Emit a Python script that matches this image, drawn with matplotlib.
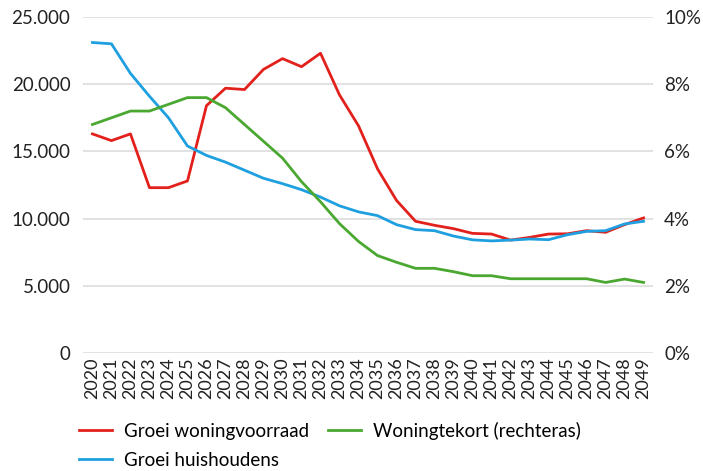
import numpy as np
import matplotlib
matplotlib.use("Agg")
import matplotlib.pyplot as plt
from matplotlib.ticker import FuncFormatter

plt.rcParams['font.family'] = ['Lato', 'DejaVu Sans']

# Data
years = list(range(2020, 2050))
groei_woningvoorraad = [16300, 15800, 16300, 12300, 12300, 12800, 18400, 19700, 19600, 21100,
                        21900, 21300, 22300, 19200, 16900, 13700, 11350, 9800, 9500, 9250,
                        8900, 8850, 8400, 8600, 8850, 8870, 9100, 8980, 9550, 10050]
groei_huishoudens = [23100, 23000, 20800, 19100, 17500, 15400, 14700, 14200, 13600, 13000,
                     12600, 12150, 11600, 10950, 10500, 10220, 9550, 9180, 9100, 8700,
                     8420, 8340, 8400, 8480, 8430, 8800, 9050, 9100, 9600, 9800]
woningtekort = [6.8, 7.0, 7.2, 7.2, 7.4, 7.6, 7.6, 7.3, 6.8, 6.3,
                5.8, 5.1, 4.5, 3.85, 3.32, 2.9, 2.7, 2.52, 2.52, 2.42,
                2.3, 2.3, 2.21, 2.21, 2.21, 2.21, 2.21, 2.1, 2.2, 2.1]

red = '#e3211c'
blue = '#1ea0e0'
green = '#4aa831'

fig = plt.figure(figsize=(7.03, 4.71), dpi=100)
ax = fig.add_axes([0.118, 0.2505, 0.811, 0.7135])
ax2 = ax.twinx()

l1, = ax.plot(years, groei_woningvoorraad, color=red, lw=2, label='Groei woningvoorraad')
l2, = ax.plot(years, groei_huishoudens, color=blue, lw=2, label='Groei huishoudens')
l3, = ax2.plot(years, woningtekort, color=green, lw=2, label='Woningtekort (rechteras)')

ax.set_xlim(2019.5, 2049.5)
ax.set_ylim(0, 25000)
ax2.set_ylim(0, 10)
ax.set_yticks(np.arange(0, 25001, 5000))
ax2.set_yticks(np.arange(0, 11, 2))
ax.yaxis.set_major_formatter(FuncFormatter(lambda v, p: f'{int(v):,}'.replace(',', '.')))
ax2.yaxis.set_major_formatter(FuncFormatter(lambda v, p: f'{int(v)}%'))
ax.set_xticks(years)
ax.set_xticklabels([str(y) for y in years], rotation=90, fontsize=13, color='#222222')

ax.grid(axis='y', color='#dddddd', lw=1.2)
ax.set_axisbelow(True)
for a in (ax, ax2):
    for s in a.spines.values():
        s.set_visible(False)
    a.tick_params(length=0)
ax.tick_params(axis='y', labelsize=13.5, labelcolor='#222222', pad=9)
ax2.tick_params(axis='y', labelsize=13.5, labelcolor='#222222', pad=8)
ax.tick_params(axis='x', pad=3)

fig.legend(handles=[l1, l2, l3], ncol=2, loc='upper left', bbox_to_anchor=(0.112, 0.105),
           frameon=False, fontsize=13.5, handlelength=1.8, columnspacing=1.0,
           labelspacing=0.65, handletextpad=0.6, borderaxespad=0, borderpad=0)

fig.savefig('out.png', dpi=100)
